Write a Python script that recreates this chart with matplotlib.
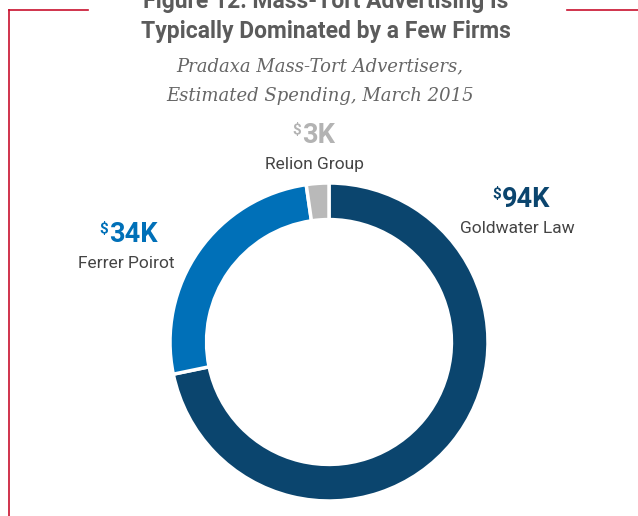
import matplotlib
matplotlib.use("Agg")
import matplotlib.pyplot as plt
from matplotlib.lines import Line2D

# data
firms = ["Goldwater Law", "Ferrer Poirot", "Relion Group"]
spend_k = [94, 34, 3]
colors = ["#0b456e", "#0070b8", "#b9b9b9"]
value_labels = ["94K", "34K", "3K"]

W, H = 638, 516
COND = ["Liberation Sans Narrow", "Roboto", "DejaVu Sans"]
SERIF = ["DejaVu Serif"]


def px(x, y):
    return x / W, 1 - y / H


fig = plt.figure(figsize=(W / 100, H / 100), dpi=100)
fig.patch.set_facecolor("white")

# donut
cx, cy, r = 329, 342, 159
ax = fig.add_axes([(cx - r) / W, (H - cy - r) / H, 2 * r / W, 2 * r / H])
ax.pie(spend_k, colors=colors, startangle=90, counterclock=False, radius=1,
       wedgeprops=dict(width=0.23, edgecolor="white", linewidth=2.5))
ax.set_xlim(-1, 1)
ax.set_ylim(-1, 1)
ax.set_aspect("equal")
ax.axis("off")

# red frame pieces
red = "#c8102e"
for xs, ys in [([9, 88], [10, 10]), ([9, 9], [10, 516]), ([567, 638], [10, 10])]:
    fig.add_artist(Line2D([x / W for x in xs], [1 - y / H for y in ys],
                          color=red, lw=1.2, transform=fig.transFigure))

# titles
fig.text(*px(326, 8), "Figure 12: Mass-Tort Advertising Is", ha="center", va="baseline",
         fontsize=16.5, fontweight="bold", color="#5b5b5b", family=COND)
fig.text(*px(326, 38), "Typically Dominated by a Few Firms", ha="center", va="baseline",
         fontsize=16.5, fontweight="bold", color="#5b5b5b", family=COND)
fig.text(*px(320, 71), "Pradaxa Mass-Tort Advertisers,", ha="center", va="baseline",
         fontsize=13, style="italic", color="#666666", family=SERIF)
fig.text(*px(320, 101), "Estimated Spending, March 2015", ha="center", va="baseline",
         fontsize=13, style="italic", color="#666666", family=SERIF)

# slice labels: (value left x, value baseline, name center x, name baseline)
label_pos = [(502, 207, 517, 233), (109, 242, 126, 268), (302, 143, 314, 169)]
for (vx, vy, nx, ny), firm, val, c in zip(label_pos, firms, value_labels, colors):
    c_txt = c if c != "#b9b9b9" else "#b3b3b3"
    fig.text(*px(vx, vy), val, ha="left", va="baseline", fontsize=19.5,
             fontweight="bold", color=c_txt, family=COND)
    fig.text(*px(vx - 1, vy - 9), "$", ha="right", va="baseline", fontsize=11,
             fontweight="bold", color=c_txt, family=COND)
    fig.text(*px(nx, ny), firm, ha="center", va="baseline", fontsize=12.5,
             color="#444444", family=COND)

fig.savefig("out.png", dpi=100)
